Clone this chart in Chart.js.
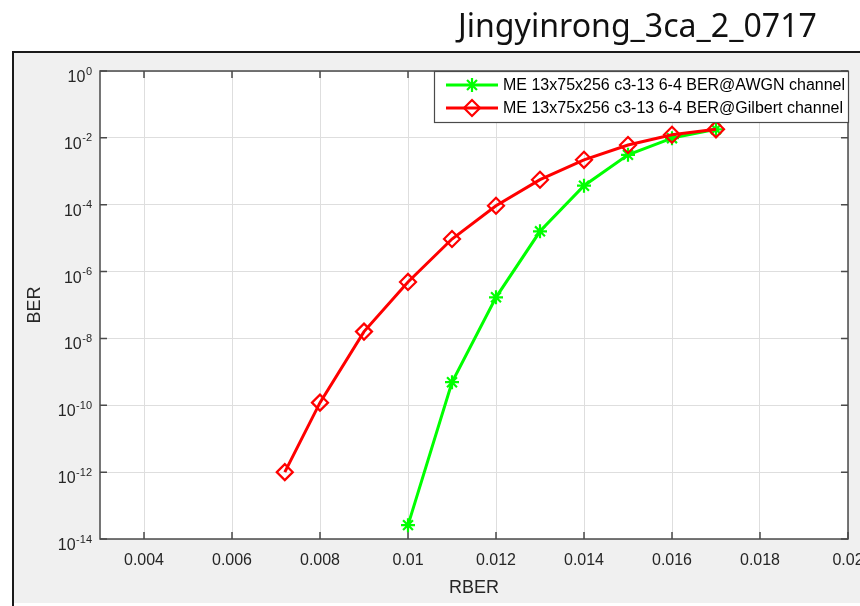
<!DOCTYPE html>
<html><head><meta charset="utf-8">
<script src="https://cdn.jsdelivr.net/npm/chart.js@4.4.1/dist/chart.umd.min.js"></script>
<style>html,body{margin:0;padding:0;background:#fff;overflow:hidden}canvas{display:block}</style>
</head><body>
<canvas id="c" width="860" height="606"></canvas>
<script>
const titleText = 'Jingyinrong_3ca_2_0717';
const xAxisTitle = 'RBER';
const yAxisTitle = 'BER';
const seriesNames = ['ME 13x75x256 c3-13 6-4 BER@AWGN channel', 'ME 13x75x256 c3-13 6-4 BER@Gilbert channel'];
const awgnRber = [0.010, 0.011, 0.012, 0.013, 0.014, 0.015, 0.016, 0.017];
const awgnBer = [2.6e-14, 4.9e-10, 1.7e-7, 1.6e-5, 3.7e-4, 3.1e-3, 9.8e-3, 1.8e-2];
const gilbertRber = [0.0072, 0.008, 0.009, 0.010, 0.011, 0.012, 0.013, 0.014, 0.015, 0.016, 0.017];
const gilbertBer = [1.0e-12, 1.2e-10, 1.6e-8, 4.9e-7, 9.4e-6, 9.3e-5, 5.6e-4, 2.2e-3, 6.1e-3, 1.24e-2, 1.8e-2];
const xTickValues = [0.004, 0.006, 0.008, 0.010, 0.012, 0.014, 0.016, 0.018, 0.020];
const xTickLabels = ['0.004', '0.006', '0.008', '0.01', '0.012', '0.014', '0.016', '0.018', '0.02'];
const yTickExponents = [0, -2, -4, -6, -8, -10, -12, -14];

const GREEN = '#00ff00', RED = '#ff0000';
const TXT = '#262626';
const FONT = '"Liberation Sans", Arial, sans-serif';

function starPath(ctx, x, y, r) {
  ctx.beginPath();
  ctx.moveTo(x - r, y); ctx.lineTo(x + r, y);
  ctx.moveTo(x, y - r); ctx.lineTo(x, y + r);
  const d = r * Math.SQRT1_2;
  ctx.moveTo(x - d, y - d); ctx.lineTo(x + d, y + d);
  ctx.moveTo(x - d, y + d); ctx.lineTo(x + d, y - d);
  ctx.stroke();
}
function diamondPath(ctx, x, y, r) {
  ctx.beginPath();
  ctx.moveTo(x - r, y); ctx.lineTo(x, y - r); ctx.lineTo(x + r, y); ctx.lineTo(x, y + r);
  ctx.closePath(); ctx.stroke();
}

const framePlugin = {
  id: 'frame',
  beforeDraw(chart) {
    const ctx = chart.ctx, a = chart.chartArea;
    ctx.save();
    ctx.fillStyle = '#ffffff'; ctx.fillRect(0, 0, 860, 606);
    ctx.fillStyle = '#f0f0f0'; ctx.fillRect(14, 53, 846, 550);
    ctx.strokeStyle = '#1a1a1a'; ctx.lineWidth = 2;
    ctx.beginPath(); ctx.moveTo(12, 52); ctx.lineTo(860, 52); ctx.moveTo(13, 51); ctx.lineTo(13, 606); ctx.stroke();
    ctx.fillStyle = '#ffffff'; ctx.fillRect(a.left, a.top, a.right - a.left, a.bottom - a.top);
    ctx.font = '30px "Noto Sans", "Open Sans", sans-serif';
    const w = ctx.measureText(titleText).width;
    const size = 30 * 359 / w;
    ctx.font = size.toFixed(2) + 'px "Noto Sans", "Open Sans", sans-serif';
    ctx.fillStyle = '#111111'; ctx.textAlign = 'left'; ctx.textBaseline = 'alphabetic';
    ctx.fillText(titleText, 458, 37);
    ctx.restore();
  },
  beforeDatasetsDraw(chart) {
    const ctx = chart.ctx, a = chart.chartArea;
    const xs = chart.scales.x, ys = chart.scales.y;
    ctx.save();
    ctx.strokeStyle = '#4a4a4a'; ctx.lineWidth = 1.5;
    ctx.strokeRect(a.left, a.top, a.right - a.left, a.bottom - a.top);
    ctx.beginPath();
    const tl = 7;
    xTickValues.forEach(v => {
      const px = xs.getPixelForValue(v);
      ctx.moveTo(px, a.bottom); ctx.lineTo(px, a.bottom - tl);
      ctx.moveTo(px, a.top); ctx.lineTo(px, a.top + tl);
    });
    yTickExponents.forEach(e => {
      const py = ys.getPixelForValue(Math.pow(10, e));
      ctx.moveTo(a.left, py); ctx.lineTo(a.left + tl, py);
      ctx.moveTo(a.right, py); ctx.lineTo(a.right - tl, py);
    });
    ctx.stroke();
    ctx.restore();
  },
  afterDraw(chart) {
    const ctx = chart.ctx, a = chart.chartArea;
    const ys = chart.scales.y;
    ctx.save();
    ctx.fillStyle = TXT; ctx.textBaseline = 'alphabetic'; ctx.textAlign = 'right';
    yTickExponents.forEach(e => {
      const py = ys.getPixelForValue(Math.pow(10, e));
      const expStr = String(e);
      ctx.font = '11px ' + FONT;
      const ew = ctx.measureText(expStr).width;
      ctx.fillText(expStr, 92, py + 3.5);
      ctx.font = '16px ' + FONT;
      ctx.fillText('10', 92 - ew - 0.5, py + 11);
    });
    ctx.font = '18px ' + FONT; ctx.textAlign = 'center'; ctx.textBaseline = 'middle';
    ctx.fillText(xAxisTitle, (a.left + a.right) / 2, 588);
    ctx.save();
    ctx.translate(35, (a.top + a.bottom) / 2); ctx.rotate(-Math.PI / 2);
    ctx.fillText(yAxisTitle, 0, 0);
    ctx.restore();
    const L = 434, T = 71, R = 849, B = 123;
    ctx.fillStyle = '#ffffff'; ctx.fillRect(L, T, R - L, B - T);
    ctx.strokeStyle = '#4a4a4a'; ctx.lineWidth = 1.2; ctx.strokeRect(L + 0.5, T + 0.5, R - L - 1, B - T - 1);
    const rows = [85, 108];
    const colors = [GREEN, RED];
    rows.forEach((ry, i) => {
      ctx.strokeStyle = colors[i]; ctx.lineWidth = 3;
      ctx.beginPath(); ctx.moveTo(446, ry); ctx.lineTo(498, ry); ctx.stroke();
      ctx.lineWidth = 2.2;
      if (i === 0) starPath(ctx, 472, ry, 7); else diamondPath(ctx, 472, ry, 8);
      ctx.fillStyle = '#000000'; ctx.font = '16px ' + FONT; ctx.textAlign = 'left'; ctx.textBaseline = 'middle';
      ctx.fillText(seriesNames[i], 503, ry + 1);
    });
    ctx.restore();
  }
};

const awgnPts = awgnRber.map((x, i) => ({ x: x, y: awgnBer[i] }));
const gilbertPts = gilbertRber.map((x, i) => ({ x: x, y: gilbertBer[i] }));

new Chart(document.getElementById('c').getContext('2d'), {
  type: 'scatter',
  data: {
    datasets: [
      { label: seriesNames[0], data: awgnPts, showLine: true, order: 2,
        borderColor: GREEN, backgroundColor: GREEN, borderWidth: 3,
        pointStyle: 'star', pointRadius: 7, pointBorderWidth: 2.2, pointBorderColor: GREEN, pointBackgroundColor: GREEN },
      { label: seriesNames[1], data: gilbertPts, showLine: true, order: 1,
        borderColor: RED, backgroundColor: 'rgba(0,0,0,0)', borderWidth: 3,
        pointStyle: 'rectRot', pointRadius: 8, pointBorderWidth: 2.2, pointBorderColor: RED, pointBackgroundColor: 'rgba(0,0,0,0)' }
    ]
  },
  options: {
    animation: false, responsive: false, devicePixelRatio: 1,
    layout: { padding: { left: 0, right: 12, top: 71, bottom: 0 } },
    plugins: { legend: { display: false }, tooltip: { enabled: false }, title: { display: false } },
    scales: {
      x: {
        type: 'linear', position: 'bottom', min: 0.003, max: 0.02,
        afterBuildTicks: s => { s.ticks = xTickValues.map(v => ({ value: v })); },
        afterFit: s => { s.height = 67; s.paddingLeft = 0; s.paddingRight = 0; },
        grid: { color: '#dedede', lineWidth: 1, drawTicks: false },
        border: { display: false },
        ticks: { padding: 12, color: TXT, font: { family: FONT, size: 16 }, maxRotation: 0, autoSkip: false,
          callback: (v, i) => xTickLabels[i] }
      },
      y: {
        type: 'logarithmic', position: 'left', min: 1e-14, max: 1,
        afterBuildTicks: s => { s.ticks = yTickExponents.slice().reverse().map(e => ({ value: Math.pow(10, e) })); },
        afterFit: s => { s.width = 100; s.paddingTop = 0; s.paddingBottom = 0; },
        grid: { color: '#dedede', lineWidth: 1, drawTicks: false },
        border: { display: false },
        ticks: { display: false }
      }
    }
  },
  plugins: [framePlugin]
});
</script>
</body></html>
